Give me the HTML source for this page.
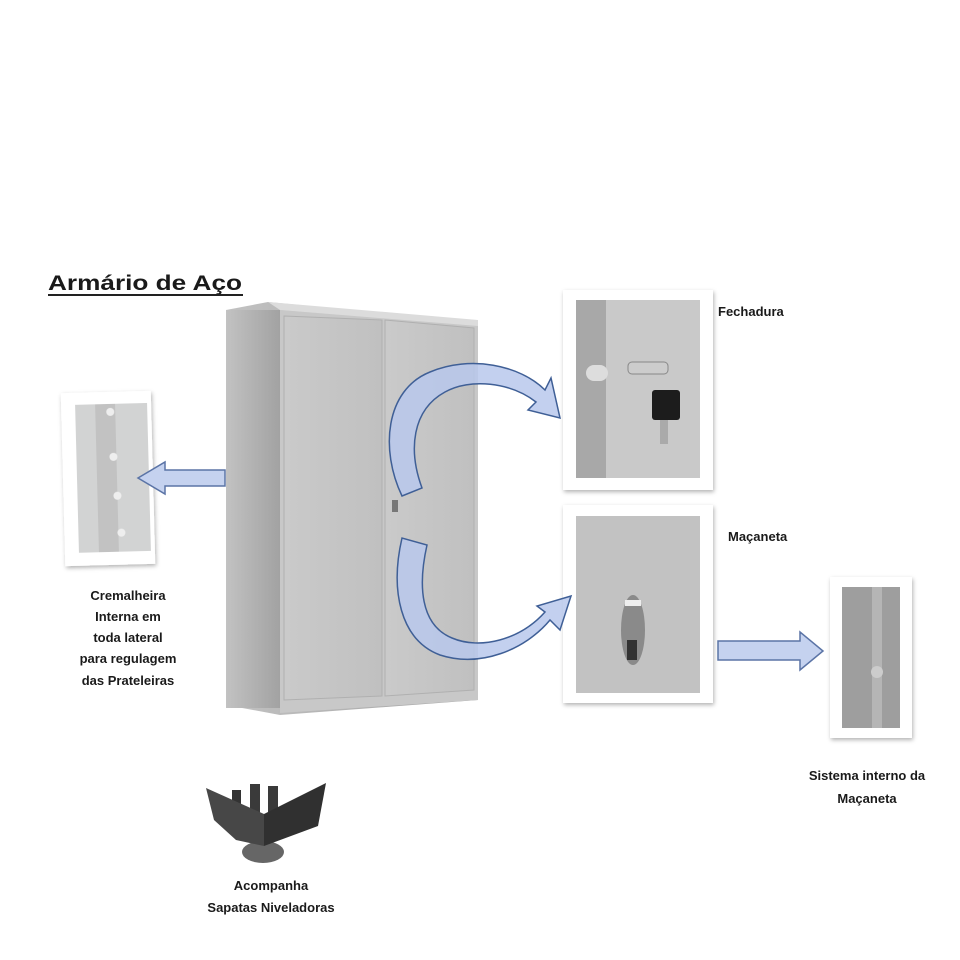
<!DOCTYPE html>
<html><head><meta charset="utf-8"><style>
body{margin:0;background:#fff;}
svg{display:block}
text{font-family:"Liberation Sans",sans-serif;font-weight:bold;fill:#1a1a1a}
</style></head><body>
<svg width="960" height="960" viewBox="0 0 960 960" xmlns="http://www.w3.org/2000/svg">
<defs>
<linearGradient id="side" x1="0" x2="1"><stop offset="0" stop-color="#c2c2c2"/><stop offset="1" stop-color="#a2a2a2"/></linearGradient>
<linearGradient id="door" x1="0" x2="1"><stop offset="0" stop-color="#cacaca"/><stop offset="1" stop-color="#c0c0c0"/></linearGradient>
<filter id="sh"><feDropShadow dx="1" dy="2" stdDeviation="2" flood-color="#000" flood-opacity="0.3"/></filter>
</defs>

<text x="48" y="290" font-size="21" textLength="194" lengthAdjust="spacingAndGlyphs">Armário de Aço</text>
<rect x="48" y="294" width="195" height="2" fill="#222"/>

<!-- cabinet -->
<polygon points="226,310 268,302 478,322 478,700 280,715 226,705" fill="url(#side)"/>
<polygon points="280,310 478,325 478,700 280,713" fill="#c8c8c8"/>
<polygon points="268,302 478,320 478,326 280,310" fill="#dcdcdc"/>
<rect x="226" y="310" width="54" height="398" fill="url(#side)"/>
<polygon points="284,316 382,320 382,696 284,700" fill="url(#door)" stroke="#b0b0b0" stroke-width="1"/>
<polygon points="385,320 474,328 474,690 385,696" fill="url(#door)" stroke="#b0b0b0" stroke-width="1"/>
<rect x="392" y="500" width="6" height="12" fill="#777"/>

<!-- left photo -->
<g filter="url(#sh)" transform="rotate(-1.5 108 478)">
<rect x="63" y="392" width="90" height="173" fill="#fff"/>
<rect x="77" y="404" width="72" height="148" fill="#d2d3d3"/>
<rect x="97" y="404" width="20" height="148" fill="#c2c2c2"/>
<circle cx="112" cy="412" r="4" fill="#eee"/><circle cx="114" cy="457" r="4" fill="#eee"/><circle cx="117" cy="496" r="4" fill="#eee"/><circle cx="120" cy="533" r="4" fill="#eee"/>
</g>
<polygon points="225,470 165,470 165,462 138,478 165,494 165,486 225,486" fill="#c5d2ef" stroke="#5b74a6" stroke-width="1.5"/>

<text font-size="13" text-anchor="middle"><tspan x="128" y="600">Cremalheira</tspan><tspan x="128" y="621">Interna em</tspan><tspan x="128" y="642">toda lateral</tspan><tspan x="128" y="663">para regulagem</tspan><tspan x="128" y="685">das Prateleiras</tspan></text>

<!-- Fechadura photo -->
<g filter="url(#sh)">
<rect x="563" y="290" width="150" height="200" fill="#fff"/>
<rect x="576" y="300" width="124" height="178" fill="#c9c9c9"/>
<rect x="576" y="300" width="30" height="178" fill="#a8a8a8"/>
<rect x="586" y="365" width="22" height="16" rx="8" fill="#ddd"/>
<rect x="628" y="362" width="40" height="12" rx="4" fill="#ccc" stroke="#888"/>
<rect x="652" y="390" width="28" height="30" rx="3" fill="#1d1d1d"/>
<rect x="660" y="420" width="8" height="24" fill="#aaa"/>
</g>
<text x="718" y="316" font-size="13">Fechadura</text>

<!-- Maçaneta photo -->
<g filter="url(#sh)">
<rect x="563" y="505" width="150" height="198" fill="#fff"/>
<rect x="576" y="516" width="124" height="177" fill="#c2c2c2"/>
<ellipse cx="633" cy="630" rx="12" ry="35" fill="#8a8a8a"/>
<rect x="625" y="600" width="16" height="6" fill="#eee"/>
<rect x="627" y="640" width="10" height="20" fill="#333"/>
</g>
<text x="728" y="541" font-size="13">Maçaneta</text>

<!-- sistema interno -->
<g filter="url(#sh)">
<rect x="830" y="577" width="82" height="161" fill="#fff"/>
<rect x="842" y="587" width="58" height="141" fill="#9e9e9e"/>
<rect x="872" y="587" width="10" height="141" fill="#b5b5b5"/>
<circle cx="877" cy="672" r="6" fill="#ccc"/>
</g>
<polygon points="718,641 800,641 800,632 823,651 800,670 800,660 718,660" fill="#c5d2ef" stroke="#5b74a6" stroke-width="1.5"/>
<text font-size="13" text-anchor="middle"><tspan x="867" y="780">Sistema interno da</tspan><tspan x="867" y="803">Maçaneta</tspan></text>

<!-- curved arrows -->
<path d="M402,496 C380,450 385,390 430,372 C470,355 520,365 545,390 L551,378 L560,418 L528,410 L536,402 C510,382 470,378 445,392 C412,410 408,450 422,488 Z" fill="#b8c8ec" fill-opacity="0.85" stroke="#3f5f96" stroke-width="1.5"/>
<path d="M402,538 C390,590 400,640 440,655 C480,668 525,650 550,620 L560,630 L571,596 L537,606 L545,612 C520,640 480,650 452,638 C420,625 418,585 427,545 Z" fill="#b8c8ec" fill-opacity="0.85" stroke="#3f5f96" stroke-width="1.5"/>

<!-- foot -->
<ellipse cx="263" cy="852" rx="21" ry="11" fill="#666"/>
<rect x="232" y="790" width="9" height="36" fill="#333"/>
<rect x="250" y="784" width="10" height="44" fill="#3a3a3a"/>
<rect x="268" y="786" width="10" height="40" fill="#3a3a3a"/>
<polygon points="206,788 264,814 264,846 236,840 214,820" fill="#474747"/>
<polygon points="264,814 326,783 318,826 264,846" fill="#303030"/>
<text font-size="13" text-anchor="middle"><tspan x="271" y="890">Acompanha</tspan><tspan x="271" y="912">Sapatas Niveladoras</tspan></text>
</svg>
</body></html>
